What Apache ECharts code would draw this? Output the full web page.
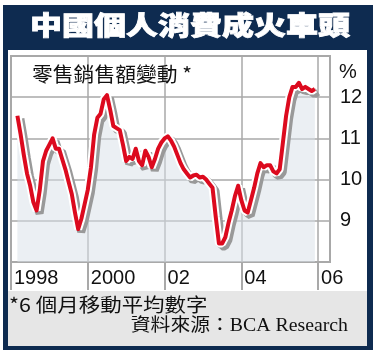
<!DOCTYPE html>
<html>
<head>
<meta charset="utf-8">
<script src="https://cdn.jsdelivr.net/npm/echarts@6/dist/echarts.min.js"></script>
<style>
  html, body { margin: 0; padding: 0; background: #fff; }
  #chart { width: 379px; height: 355px; }
</style>
</head>
<body>
<div id="chart"></div>
<script>
// 零售銷售額變動 (6個月移動平均), 由 1998年3月 起每月一點
const startYear = 1998
const startMonth = 3
const retailSales = [
  11.55, 11.1, 10.6, 10.15, 9.85, 9.45, 9.25, 9.75, 10.45, 10.7,
  10.85, 11.0, 10.75, 10.75, 10.5, 10.25, 9.95, 9.65, 9.2, 8.8,
  9.05, 9.4, 9.75, 10.3, 11.1, 11.5, 11.6, 11.95, 12.05, 11.7,
  11.3, 11.25, 11.2, 10.85, 10.45, 10.55, 10.5, 10.75, 10.45, 10.35,
  10.7, 10.55, 10.3, 10.5, 10.75, 10.9, 11.0, 11.05, 10.95, 10.8,
  10.6, 10.4, 10.25, 10.15, 10.05, 10.1, 10.12, 10.05, 10.07, 10.0,
  9.9, 9.8, 9.1, 8.45, 8.45, 8.6, 8.95, 9.25, 9.6, 9.85,
  9.5, 9.25, 9.2, 9.5, 9.8, 10.15, 10.4, 10.3, 10.35, 10.35,
  10.2, 10.15, 10.25, 10.9, 11.55, 12.0, 12.25, 12.25, 12.35, 12.2,
  12.25, 12.2, 12.15, 12.2
]
const xTicks = [1998, 2000, 2002, 2004, 2006]
const xTickLabels = ['1998', '2000', '02', '04', '06']
const yTickLabels = ['9', '10', '11', '12']

const navy = '#0e2b50'
const gridGray = '#a9a9a9'

let seriesData = retailSales.map((v, i) => [startYear + (startMonth - 1 + i) / 12, v])

let myChart = echarts.init(document.getElementById('chart'))
let option = {
  backgroundColor: '#fff',
  animation: false,
  grid: {
    left: 11,
    right: 49,
    top: 56,
    bottom: 93,
    show: true,
    borderColor: gridGray,
    borderWidth: 2,
    outerBoundsMode: 'none'
  },
  xAxis: {
    type: 'value',
    min: 1998,
    max: 2006.31,
    interval: 2,
    axisLine: { show: true, lineStyle: { color: gridGray, width: 2 } },
    axisTick: { show: true, length: 28, lineStyle: { color: gridGray, width: 2 } },
    splitLine: { show: true, lineStyle: { color: gridGray, width: 1.5 } },
    axisLabel: {
      align: 'left',
      margin: 6,
      padding: [0, 0, 0, 3],
      color: '#111',
      fontSize: 20,
      fontFamily: 'Liberation Sans, Arial, sans-serif',
      formatter: v => {
        let k = xTicks.indexOf(Math.round(v))
        return k >= 0 ? xTickLabels[k] : ''
      }
    }
  },
  yAxis: {
    type: 'value',
    position: 'right',
    min: 8,
    max: 13,
    interval: 1,
    axisLine: { show: false },
    axisTick: { show: false },
    splitLine: { show: true, lineStyle: { color: gridGray, width: 1.5 } },
    axisLabel: {
      margin: 10,
      color: '#111',
      fontSize: 20,
      fontFamily: 'Liberation Sans, Arial, sans-serif',
      formatter: v => yTickLabels.indexOf(String(v)) >= 0 ? String(v) : ''
    }
  },
  graphic: [
    // 外框 深藍
    { type: 'rect', z: -100, shape: { x: 3, y: 5, width: 370, height: 345 }, style: { fill: navy } },
    { type: 'rect', z: -99, shape: { x: 8, y: 50, width: 359, height: 296 }, style: { fill: '#fff' } },
    { type: 'rect', z: -99, shape: { x: 8, y: 291, width: 359, height: 55 }, style: { fill: '#e6e6e6' } },
    // 標題
    {
      type: 'text', z: 100, x: 190, y: 25, scaleX: 1.23,
      style: {
        text: '中國個人消費成火車頭',
        fill: '#fff',
        font: '900 26px "Noto Sans CJK TC"',
        textAlign: 'center',
        textVerticalAlign: 'middle',
        stroke: '#fff',
        lineWidth: 0.8,
        shadowColor: '#6b6b6b',
        shadowOffsetX: 2,
        shadowOffsetY: 2,
        shadowBlur: 0
      }
    },
    {
      type: 'text', z: 100, x: 32, y: 74, scaleX: 1.04,
      style: {
        text: '零售銷售額變動 *',
        fill: '#111',
        font: '20px "Noto Sans CJK TC"',
        textAlign: 'left',
        textVerticalAlign: 'middle'
      }
    },
    {
      type: 'text', z: 100, x: 339, y: 72,
      style: {
        text: '%',
        fill: '#111',
        font: '20px "Liberation Sans"',
        textAlign: 'left',
        textVerticalAlign: 'middle'
      }
    },
    // 註腳
    {
      type: 'text', z: 100, x: 9, y: 305, scaleX: 1.13,
      style: {
        text: '*6 個月移動平均數字',
        fill: '#111',
        font: '19px "Noto Sans CJK TC"',
        textAlign: 'left',
        textVerticalAlign: 'middle'
      }
    },
    {
      type: 'text', z: 100, x: 348, y: 326, scaleX: 1.1,
      style: {
        text: '資料來源：BCA Research',
        fill: '#111',
        font: '18px "Liberation Serif", "Noto Sans CJK TC"',
        textAlign: 'right',
        textVerticalAlign: 'middle'
      }
    }
  ],
  series: [
    // 白邊 + 灰影 + 底色
    {
      type: 'line',
      data: seriesData,
      showSymbol: false,
      smooth: false,
      z: 2,
      lineStyle: {
        color: '#fff',
        width: 8,
        shadowColor: '#999',
        shadowOffsetX: 3,
        shadowOffsetY: 3,
        shadowBlur: 0
      },
      areaStyle: { color: '#d8e0e7', opacity: 0.5 }
    },
    // 紅線
    {
      type: 'line',
      data: seriesData,
      showSymbol: false,
      smooth: false,
      z: 3,
      lineStyle: { color: '#dc0a1e', width: 4, join: 'round' }
    }
  ]
}
myChart.setOption(option)
</script>
</body>
</html>
